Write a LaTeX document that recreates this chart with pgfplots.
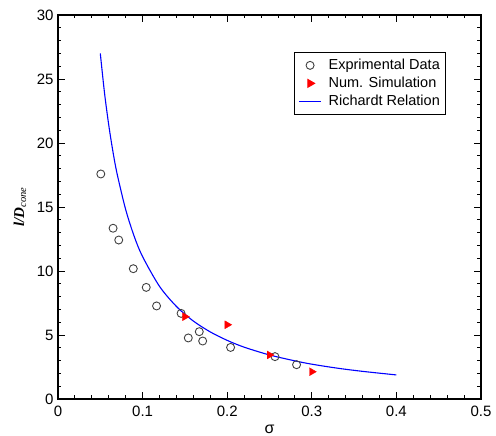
\documentclass[border=0pt]{standalone}
\usepackage{fontspec}
\setmainfont{Liberation Sans}
\newfontfamily\serifit{Liberation Serif}
\usepackage{pgfplots}
\pgfplotsset{compat=1.18}
\pgfplotsset{
    linelegend/.style={legend image code/.code={\draw[##1] (0pt,0pt) -- (22pt,0pt);}},
    marklegend/.style={legend image code/.code={\draw[##1] plot coordinates {(11pt,0pt)};}},
}

\begin{document}
\begin{tikzpicture}
\begin{axis}[
    scale only axis,
    width=423pt, height=384pt,
    xmin=0, xmax=0.5, ymin=0, ymax=30,
    xtick={0,0.1,0.2,0.3,0.4,0.5},
    ytick={0,5,10,15,20,25,30},
    minor x tick num=4, minor y tick num=4,
    tick align=inside, xtick pos=both, ytick pos=both,
    major tick length=7pt, minor tick length=3.5pt,
    every tick/.style={black, line width=0.9pt},
    axis line style={line width=1.3pt},
    /pgf/number format/assume math mode=true,
    tick label style={font=\fontsize{15}{17}\selectfont},
    xticklabel style={/pgf/number format/fixed, yshift=-3pt},
    yticklabel style={xshift=-1pt},
    xlabel={σ},
    xlabel style={font=\fontsize{16}{18}\selectfont, at={(axis description cs:0.5,-0.078)}, anchor=center},
    ylabel={{\serifit\bfseries\itshape l/D}\textsubscript{\serifit\itshape cone}},
    ylabel style={font=\fontsize{15}{17}\selectfont, at={(axis description cs:-0.09,0.5)}, anchor=center},
    legend style={at={(0.558,0.904)}, anchor=north west, draw=black, line width=1pt,
        font=\fontsize{14.5}{16}\selectfont, row sep=2pt, column sep=5pt,
        inner xsep=4pt, inner ysep=5pt},
    legend cell align=left,
]
\addplot[only marks, mark=o, mark size=4pt, mark options={draw=black!75, line width=0.9pt}, marklegend]
coordinates {
(0.0506,17.58) (0.0651,13.34) (0.0718,12.42) (0.089,10.18) (0.1043,8.72)
(0.1165,7.27) (0.1455,6.69) (0.154,4.77) (0.167,5.26) (0.171,4.53)
(0.204,4.03) (0.2565,3.31) (0.282,2.68)
};
\addlegendentry{Exprimental Data}
\addplot[only marks, mark=triangle*, mark size=4.5pt, mark options={rotate=-90, fill=red, draw=red}, marklegend]
coordinates {(0.150,6.43) (0.200,5.80) (0.250,3.44) (0.300,2.13)};
\addlegendentry{Num. Simulation}
\addplot[blue, line width=1.1pt, smooth, no marks, linelegend]
coordinates {
(0.05,27.0) (0.055,23.9) (0.06,21.4) (0.065,19.3) (0.07,17.55) (0.08,14.8)
(0.09,12.72) (0.10,11.12) (0.12,8.80) (0.14,7.23) (0.16,6.09) (0.18,5.24)
(0.20,4.58) (0.22,4.05) (0.25,3.44) (0.28,2.98) (0.30,2.72) (0.33,2.41)
(0.36,2.16) (0.40,1.88)
};
\addlegendentry{Richardt Relation}
\end{axis}
\pgfresetboundingbox
\path (current axis.south west) ++(-58pt,-37pt) rectangle ++(496pt,436pt);
\end{tikzpicture}
\end{document}
